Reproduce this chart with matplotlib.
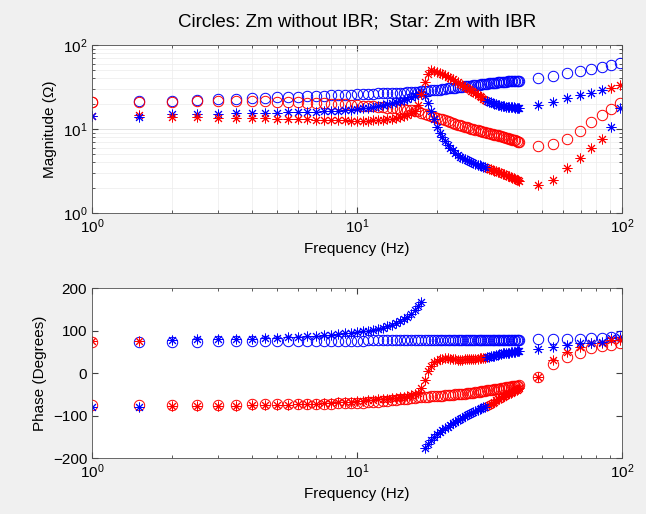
import matplotlib
matplotlib.use("Agg")
import matplotlib.pyplot as plt
import numpy as np

plt.rcParams['font.family'] = ['Liberation Sans', 'DejaVu Sans']
plt.rcParams['mathtext.fontset'] = 'custom'
plt.rcParams['mathtext.rm'] = 'Liberation Sans'

# frequency points (Hz)
freq = [1, 1.5, 2, 2.5, 3, 3.5, 4, 4.5, 5, 5.5,
        6, 6.5, 7, 7.5, 8, 8.5, 9, 9.5, 10, 10.5,
        11, 11.5, 12, 12.5, 13, 13.5, 14, 14.5, 15, 15.5,
        16, 16.5, 17, 17.5, 18, 18.5, 19, 19.5, 20, 20.5,
        21, 21.5, 22, 22.5, 23, 23.5, 24, 24.5, 25, 25.5,
        26, 26.5, 27, 27.5, 28, 28.5, 29, 29.5, 30, 30.5,
        31, 31.5, 32, 32.5, 33, 33.5, 34, 34.5, 35, 35.5,
        36, 36.5, 37, 37.5, 38, 38.5, 39, 39.5, 40, 40.5,
        41,
        48, 55, 62, 69.5, 76.5, 84, 91, 98.5]

# magnitude (ohm): circles = Zm without IBR, stars = Zm with IBR
mag_c1 = [21.0, 21.4, 21.8, 22.2, 22.6, 23.0, 23.3, 23.6, 23.9, 24.1,
          24.3, 24.5, 24.7, 24.9, 25.1, 25.3, 25.5, 25.7, 25.9, 26.0,
          26.2, 26.3, 26.5, 26.6, 26.8, 26.9, 27.0, 27.1, 27.2, 27.3,
          27.4, 27.6, 27.8, 28.0, 28.3, 28.5, 28.8, 29.0, 29.3, 29.5,
          29.8, 30.1, 30.4, 30.6, 30.9, 31.1, 31.4, 31.6, 31.9, 32.1,
          32.4, 32.6, 32.9, 33.1, 33.4, 33.6, 33.8, 34.0, 34.3, 34.5,
          34.7, 34.9, 35.1, 35.3, 35.5, 35.7, 35.9, 36.1, 36.3, 36.4,
          36.6, 36.7, 36.9, 37.0, 37.1, 37.2, 37.3, 37.4, 37.5, 37.6,
          37.7,
          40.0, 43.0, 46.0, 48.5, 52.0, 55.0, 58.0, 60.5]
mag_c2 = [21.0, 21.1, 21.2, 21.3, 21.4, 21.5, 21.4, 21.3, 21.2, 21.0,
          20.8, 20.6, 20.4, 20.2, 20.0, 19.8, 19.6, 19.4, 19.2, 19.0,
          18.8, 18.6, 18.4, 18.2, 18.0, 17.8, 17.6, 17.4, 17.2, 17.0,
          16.8, 16.5, 16.2, 15.7, 15.2, 14.7, 14.3, 13.9, 13.6, 13.3,
          13.0, 12.7, 12.4, 12.1, 11.8, 11.6, 11.3, 11.1, 10.9, 10.7,
          10.5, 10.3, 10.1, 9.9, 9.8, 9.7, 9.6, 9.4, 9.3, 9.1,
          9.0, 8.9, 8.8, 8.7, 8.6, 8.5, 8.4, 8.3, 8.2, 8.1,
          8.0, 7.9, 7.8, 7.7, 7.6, 7.5, 7.4, 7.3, 7.2, 7.1,
          7.0,
          6.2, 6.6, 7.7, 9.5, 12.0, 14.7, 17.3, 20.2]
mag_s1 = [14.3, 14.6, 14.9, 15.1, 15.3, 15.4, 15.5, 15.6, 15.7, 15.8,
          15.9, 16.0, 16.1, 16.2, 16.4, 16.6, 16.8, 17.0, 17.3, 17.6,
          18.0, 18.4, 18.8, 19.2, 19.7, 20.2, 20.7, 21.3, 22.0, 22.8,
          23.8, 25.0, 26.5, 27.8, 25.0, 20.5, 16.5, 13.0, 10.5, 9.0,
          8.0, 7.2, 6.5, 6.0, 5.6, 5.2, 4.9, 4.7, 4.5, 4.4,
          4.3, 4.15, 4.05, 3.95, 3.85, 3.77, 3.7, 3.63, 3.56, 3.5,
          3.44, 3.38, 3.32, 3.26, 3.2, 3.14, 3.09, 3.04, 2.99, 2.94,
          2.89, 2.84, 2.79, 2.74, 2.69, 2.64, 2.59, 2.54, 2.5, 2.46,
          2.42,
          2.15, 2.47, 3.4, 4.5, 5.9, 7.7, 10.6, 17.6]
mag_s2 = [14.2, 14.0, 13.9, 13.8, 13.7, 13.6, 13.5, 13.4, 13.3, 13.2,
          13.1, 13.0, 12.9, 12.8, 12.8, 12.7, 12.7, 12.6, 12.6, 12.6,
          12.6, 12.7, 12.8, 12.9, 13.1, 13.3, 13.6, 13.9, 14.3, 14.8,
          15.4, 16.5, 19.5, 26.0, 36.0, 45.0, 50.0, 49.5, 48.0, 46.5,
          45.0, 43.5, 42.0, 40.5, 39.0, 37.5, 36.0, 34.5, 33.2, 32.0,
          30.8, 29.7, 28.6, 27.6, 26.6, 25.6, 24.7, 23.8, 23.0, 22.3,
          21.7, 21.2, 20.7, 20.3, 19.9, 19.6, 19.3, 19.1, 18.9, 18.7,
          18.6, 18.5, 18.4, 18.3, 18.2, 18.1, 18.1, 18.0, 18.0, 17.9,
          17.9,
          19.3, 20.8, 23.2, 25.4, 26.6, 29.1, 30.5, 33.4]

# phase (degrees)
ph_c1 = [74, 74, 74, 74, 74.5, 74.5, 75, 75, 75, 75,
         75.5, 75.5, 75.5, 76, 76, 76, 76, 76.5, 76.5, 76.5,
         77, 77, 77, 77, 77, 77, 77, 77, 77, 77,
         77, 77, 77, 77, 77, 77, 77, 77, 77, 77,
         77.5, 77.5, 77.5, 77.5, 77.5, 77.5, 77.5, 77.5, 77.5, 77.5,
         77.5, 77.5, 77.5, 77.5, 77.5, 77.5, 77.5, 77.5, 77.5, 77.5,
         78, 78, 78, 78, 78, 78, 78, 78, 78, 78,
         78, 78, 78, 78, 78, 78, 78, 78, 78, 78,
         78,
         79.5, 80, 80.5, 81, 81.5, 83, 85, 87]
ph_c2 = [-75, -75, -75, -75, -74.5, -74.5, -74, -74, -73.5, -73.5,
         -73, -73, -72.5, -72, -72, -71.5, -71, -70.5, -70, -69.5,
         -69, -68, -67, -66, -65, -64, -63, -62, -61, -60,
         -59, -58, -57, -56.5, -56, -55.5, -55, -54.5, -54, -53.5,
         -53, -52.5, -52, -51.5, -51, -50.5, -50, -49.5, -49, -48.5,
         -48, -47, -46.5, -46, -45, -44.5, -44, -43, -42.5, -42,
         -41, -40.5, -40, -39, -38.5, -38, -37, -36.5, -36, -35,
         -34.5, -34, -33, -32.5, -32, -31.5, -31, -30.5, -30, -29.5,
         -29,
         -10, 21, 38, 48, 58, 63.5, 66, 70]
ph_s1 = [75, 76, 78, 79, 79.5, 80, 81, 82, 83, 84,
         85, 86, 87.5, 89, 90.5, 92, 93.5, 95, 96.5, 98,
         100, 102, 104, 107, 110, 114, 118, 122, 127, 133,
         140, 148, 157, 168, -176, -166, -158, -150, -144, -138,
         -133, -129, -126, -122, -118, -114.5, -111, -108, -105, -102,
         -99.5, -97, -94.5, -92, -89.5, -87, -85, -83, -81, -79,
         -77, -74.5, -72, -69.5, -67, -64.5, -62, -60, -58, -56,
         -54, -52, -50, -48, -46, -44, -42, -40.5, -39, -37.5,
         -36,
         -10, 30, 50, 62, 70, 71, 81.5, 85]
ph_s2 = [-80, -80, -78, -77, -77, -76.5, -76, -75.5, -75, -74.5,
         -74, -73, -72, -71, -70, -69, -68, -67, -66, -65,
         -64, -63, -62, -61, -60, -59, -58, -57, -55.5, -54,
         -52, -50, -47, -36, -16, 4, 17, 25, 29, 32,
         34, 35, 35, 34, 33, 32, 31.5, 31.5, 31.5, 32,
         32, 32.5, 33, 33, 33.5, 34, 34.5, 35, 35.5, 36,
         37, 38, 39, 40, 41, 42, 43, 44, 45, 46,
         46.5, 47, 47.5, 48, 49, 49.5, 50, 50.5, 51, 51.5,
         52,
         55.7, 60.4, 65.9, 69.8, 70.5, 73.7, 77.6, 77.6]

# branch colour of each point (r = red, b = blue)
col_c1 = 'r' + 'b' * 88
col_c2 = 'r' * 89
col_s1 = 'rr' + 'b' * 58 + 'r' * 27 + 'bb'
col_s2 = 'bb' + 'r' * 58 + 'b' * 27 + 'rr'

colors = {'r': '#ff0000', 'b': '#0000ff'}
star = (8, 2, 0)

f = np.array(freq)

fig = plt.figure(figsize=(6.46, 5.14), dpi=100)
fig.patch.set_facecolor('#f0f0f0')
ax1 = fig.add_axes([0.1424, 0.5856, 0.8204, 0.3268])
ax2 = fig.add_axes([0.1424, 0.1089, 0.8204, 0.3307])


def draw(ax, series):
    for vals, cols, mk, ms in series:
        v = np.array(vals)
        c = np.array(list(cols))
        for key in ['r', 'b']:
            m = c == key
            ax.plot(f[m], v[m], linestyle='none', marker=mk, markersize=ms,
                    markerfacecolor='none', markeredgecolor=colors[key],
                    markeredgewidth=0.7)


draw(ax1, [(mag_c1, col_c1, 'o', 7.5), (mag_c2, col_c2, 'o', 7.5),
           (mag_s1, col_s1, star, 7), (mag_s2, col_s2, star, 7)])
draw(ax2, [(ph_c1, col_c1, 'o', 7.5), (ph_c2, col_c2, 'o', 7.5),
           (ph_s1, col_s1, star, 7), (ph_s2, col_s2, star, 7)])

ax1.set_xscale('log')
ax1.set_yscale('log')
ax1.set_xlim(1, 100)
ax1.set_ylim(1, 100)
ax1.grid(True, which='major', color='#dcdcdc', linewidth=0.6)
ax1.grid(True, which='minor', color='#ececec', linewidth=0.5)
ax1.set_axisbelow(True)
ax1.set_xlabel('Frequency (Hz)', fontsize=11)
ax1.set_ylabel('Magnitude (\u03a9)', fontsize=11)
ax1.set_title('Circles: Zm without IBR;  Star: Zm with IBR', fontsize=13.5, pad=13)

ax2.set_xscale('log')
ax2.set_xlim(1, 100)
ax2.set_ylim(-200, 200)
ax2.set_yticks([-200, -100, 0, 100, 200])
ax2.set_xlabel('Frequency (Hz)', fontsize=11)
ax2.set_ylabel('Phase (Degrees)', fontsize=11)

for ax in (ax1, ax2):
    ax.tick_params(which='both', direction='in', top=True, right=True,
                   labelsize=11, color='#404040')
    ax.tick_params(which='major', length=4)
    ax.tick_params(which='minor', length=2)
    for s in ax.spines.values():
        s.set_color('#505050')
        s.set_linewidth(0.6)

fig.savefig('out.png', dpi=100, facecolor=fig.get_facecolor())
